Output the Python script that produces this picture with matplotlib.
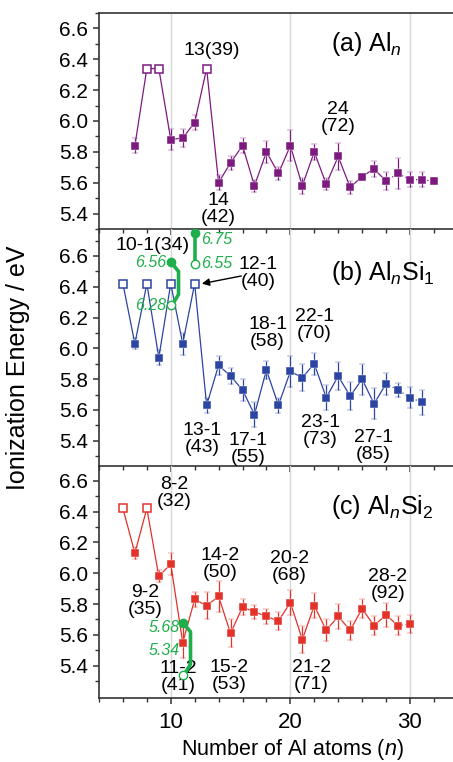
import numpy as np
import matplotlib
matplotlib.use("Agg")
import matplotlib.pyplot as plt
from matplotlib.ticker import MultipleLocator

plt.rcParams["font.family"] = ["Liberation Sans", "DejaVu Sans"]
plt.rcParams["mathtext.fontset"] = "custom"
plt.rcParams["mathtext.rm"] = "Liberation Sans"
plt.rcParams["mathtext.it"] = "Liberation Sans:italic"

nan = np.nan

# (a) Al_n
n_a = list(range(7, 33))
ie_a = [5.84, 6.34, 6.34, 5.88, 5.89, 5.99, 6.34, 5.60, 5.73, 5.84, 5.58, 5.80, 5.66,
        5.84, 5.58, 5.80, 5.59, 5.77, 5.57, 5.64, 5.69, 5.61, 5.66, 5.62, 5.62, 5.61]
err_a = [0.05, nan, nan, 0.07, 0.06, 0.05, nan, 0.05, 0.045, 0.05, 0.04, 0.07, 0.04,
         0.10, 0.05, 0.05, 0.04, 0.09, 0.04, 0.0, 0.05, 0.06, 0.10, 0.05, 0.05, 0.0]

# (b) Al_nSi_1
n_b = list(range(6, 32))
ie_b = [6.42, 6.03, 6.42, 5.94, 6.42, 6.03, 6.42, 5.63, 5.89, 5.82, 5.73, 5.57, 5.86,
        5.63, 5.85, 5.81, 5.90, 5.68, 5.82, 5.69, 5.80, 5.64, 5.77, 5.73, 5.68, 5.65]
err_b = [nan, 0.035, nan, 0.05, nan, 0.07, nan, 0.05, 0.06, 0.05, 0.07, 0.08, 0.06,
         0.05, 0.10, 0.09, 0.07, 0.08, 0.09, 0.09, 0.10, 0.10, 0.07, 0.045, 0.07, 0.08]

# (c) Al_nSi_2
n_c = list(range(6, 31))
ie_c = [6.42, 6.13, 6.42, 5.98, 6.06, 5.55, 5.83, 5.79, 5.85, 5.61, 5.78, 5.75, 5.72,
        5.69, 5.81, 5.57, 5.79, 5.63, 5.72, 5.63, 5.77, 5.66, 5.73, 5.66, 5.67]
err_c = [nan, 0.04, nan, 0.04, 0.07, 0.10, 0.05, 0.09, 0.10, 0.09, 0.05, 0.045, 0.05,
         0.06, 0.08, 0.09, 0.08, 0.07, 0.08, 0.06, 0.06, 0.06, 0.08, 0.06, 0.06]

# last n joined by a solid line, the rest is dotted
solid_until = {"a": 28, "b": 28, "c": 29}

labels_a = [("13(39)", 13.4, 6.455), ("14\n(42)", 14.0, 5.43), ("24\n(72)", 24.0, 6.02)]
labels_b = [("10-1(34)", 8.45, 6.67), ("12-1\n(40)", 17.3, 6.487), ("18-1\n(58)", 18.1, 6.10),
            ("22-1\n(70)", 22.0, 6.154), ("13-1\n(43)", 12.6, 5.412), ("17-1\n(55)", 16.5, 5.346),
            ("23-1\n(73)", 22.5, 5.465), ("27-1\n(85)", 26.95, 5.363)]
labels_c = [("8-2\n(32)", 10.3, 6.523), ("9-2\n(35)", 7.86, 5.82), ("11-2\n(41)", 10.65, 5.33),
            ("14-2\n(50)", 14.1, 6.057), ("15-2\n(53)", 14.9, 5.336), ("20-2\n(68)", 19.9, 6.04),
            ("21-2\n(71)", 21.75, 5.334), ("28-2\n(92)", 28.15, 5.925)]

# calculated values (filled = upper, open = lower)
calc_b = [(10, 6.56, 6.28), (12, 6.75, 6.55)]
calc_c = [(11, 5.68, 5.34)]

purple = "#7d1a80"
blue = "#2c44a2"
red = "#e2322a"
green = "#1fae4c"

W, H = 453, 762
left = 99 / W
panels = [
    ("a", n_a, ie_a, err_a, purple, (5.30, 6.70), 13, 229, labels_a, "(a) Al$_{\\mathit{n}}$", 6.50),
    ("b", n_b, ie_b, err_b, blue, (5.236, 6.775), 229, 466, labels_b, "(b) Al$_{\\mathit{n}}$Si$_1$", 6.49),
    ("c", n_c, ie_c, err_c, red, (5.191, 6.695), 466, 698, labels_c, "(c) Al$_{\\mathit{n}}$Si$_2$", 6.43),
]

fig = plt.figure(figsize=(W / 100, H / 100), dpi=100)
axes = {}
for key, n, ie, err, col, ylim, top, bot, labs, title, ty in panels:
    ax = fig.add_axes([left, 1 - bot / H, 1 - left, (bot - top) / H])
    axes[key] = ax
    n = np.array(n)
    ie = np.array(ie)
    err = np.array(err)
    is_open = np.isnan(err)

    for x in (10, 20, 30):
        ax.axvline(x, color="#d6d6d6", lw=1.0, zorder=0)

    cut = solid_until[key]
    s = n <= cut
    ax.plot(n[s], ie[s], color=col, lw=0.9, zorder=2)
    t = n >= cut
    ax.plot(n[t], ie[t], color=col, lw=0.9, ls=(0, (1, 2)), zorder=2)

    f = ~is_open
    ax.errorbar(n[f], ie[f], yerr=err[f], fmt="s", color=col, ms=6.2, mec="white", mew=0.3,
                ecolor=col, elinewidth=0.9, capsize=2.2, capthick=0.9, zorder=3)
    ax.plot(n[is_open], ie[is_open], "s", ms=6, mfc="white", mec=col, mew=1.1, zorder=3)

    for txt, x, y in labs:
        ax.text(x, y, txt, ha="center", va="center", fontsize=14, linespacing=1.0, zorder=4)
    ax.text(23.4, ty, title, ha="left", va="center", fontsize=18, zorder=4)

    ax.set_xlim(4, 33.6)
    ax.xaxis.set_major_locator(MultipleLocator(10))
    ax.xaxis.set_minor_locator(MultipleLocator(2))
    ax.set_yticks(np.arange(5.4, 6.61, 0.2))
    ax.set_yticks(np.arange(5.3, 6.71, 0.1), minor=True)
    ax.yaxis.set_major_formatter(lambda v, p: f"{v:.1f}")
    ax.set_ylim(*ylim)
    ax.tick_params(axis="both", which="major", direction="out", length=4, width=1.1,
                   labelsize=15, color="#333333")
    ax.tick_params(axis="both", which="minor", direction="out", length=3, width=1.0,
                   color="#333333")
    ax.tick_params(axis="y", pad=4)
    ax.spines["right"].set_visible(False)
    ax.spines["top"].set_visible(key == "a")
    for sp in ("left", "bottom", "top"):
        ax.spines[sp].set_linewidth(1.2)
        ax.spines[sp].set_color("#333333")
    ax.patch.set_alpha(0)
    if key != "c":
        ax.tick_params(axis="x", labelbottom=False)
    else:
        ax.tick_params(axis="x", labelsize=16, pad=6)


def draw_calc(ax, pts, bracket, dx, hi_shift=0.0, lo_shift=0.0):
    for x, hi, lo in pts:
        if bracket:
            bx = [x, x + 0.65, x + 0.65, x + 0.1]
            by = [hi, hi - 0.06, lo + 0.07, lo]
        else:
            bx, by = [x, x], [hi, lo]
        ax.plot(bx, by, color=green, lw=2.6, solid_capstyle="round", zorder=5)
        ax.plot(x, hi, "o", ms=6, color=green, zorder=6)
        ax.plot(x, lo, "o", ms=6, mfc="white", mec=green, mew=1.0, zorder=6)
        ha = "right" if dx < 0 else "left"
        ax.text(x + dx, hi + hi_shift, f"{hi:.2f}", color=green, style="italic",
                fontsize=11.5, ha=ha, va="center", zorder=6)
        ax.text(x + dx, lo + lo_shift, f"{lo:.2f}", color=green, style="italic",
                fontsize=11.5, ha=ha, va="center", zorder=6)


draw_calc(axes["b"], calc_b[:1], True, -0.35)
draw_calc(axes["b"], calc_b[1:], False, 0.55, hi_shift=-0.04)
draw_calc(axes["c"], calc_c, True, -0.25, hi_shift=-0.035, lo_shift=0.16)

axes["b"].annotate("", xy=(12.6, ie_b[n_b.index(12)]), xytext=(15.9, 6.47),
                   arrowprops=dict(arrowstyle="-|>", color="black", lw=1.0,
                                   mutation_scale=11, shrinkA=0, shrinkB=0), zorder=6)

fig.text(292 / W, 1 - 750 / H, "Number of Al atoms ($\\mathit{n}$)", ha="center", va="center",
         fontsize=15.5)
fig.text(18 / W, 1 - 368 / H, "Ionization Energy / eV", ha="center", va="center",
         rotation=90, fontsize=18)

fig.savefig("out.png", dpi=100)
